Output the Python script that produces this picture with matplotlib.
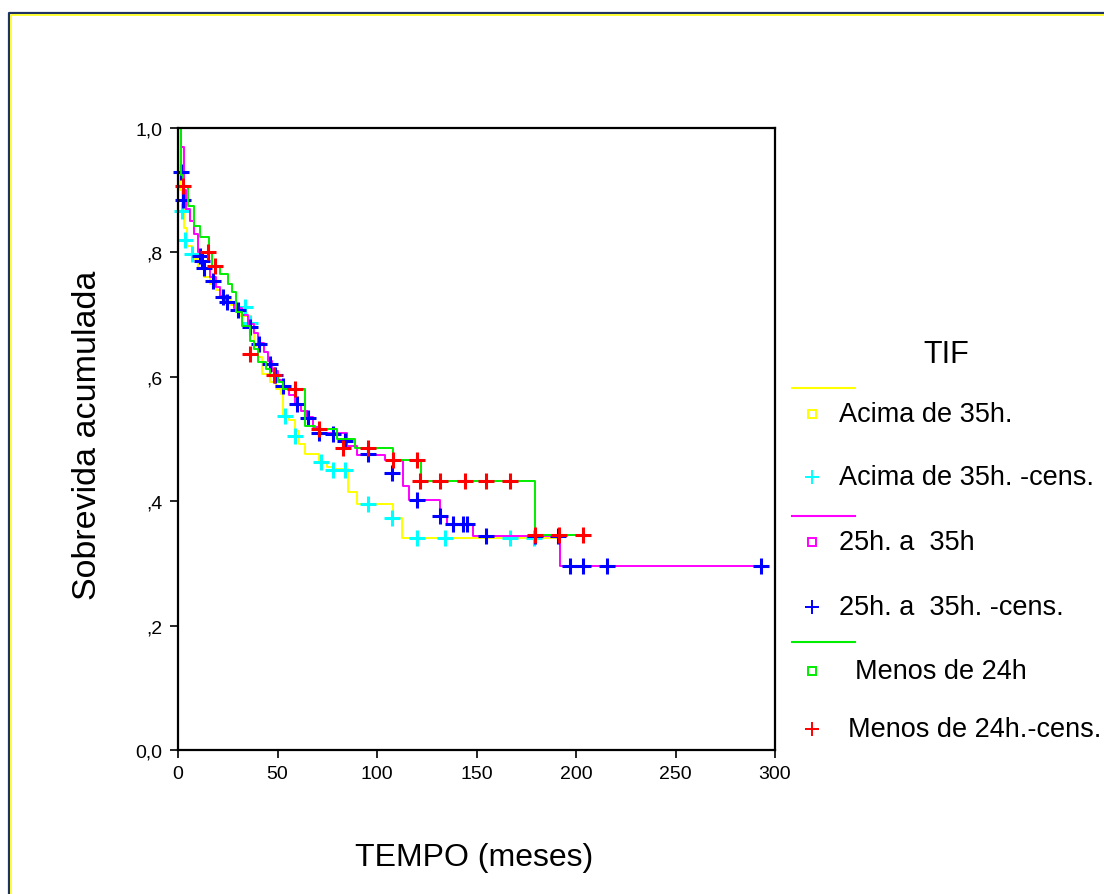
import matplotlib
matplotlib.use("Agg")
import matplotlib.pyplot as plt
from matplotlib.lines import Line2D

plt.rcParams['font.family'] = ['Liberation Sans', 'DejaVu Sans']

# Kaplan-Meier curves (time in months, cumulative survival)
acima_t = [0, 1, 2, 3, 4.5, 7, 10, 13, 16, 19, 22, 26, 28.6, 31, 36, 38, 40, 42, 46, 49,
           52, 53, 56, 59, 61, 64, 71, 75, 78, 85.5, 90, 108, 112.5, 192]
acima_s = [1.0, 0.90, 0.87, 0.84, 0.81, 0.79, 0.775, 0.76, 0.75, 0.74, 0.725, 0.715, 0.709, 0.698,
           0.68, 0.65, 0.632, 0.605, 0.592, 0.58, 0.572, 0.537, 0.53, 0.513, 0.492, 0.476, 0.463,
           0.455, 0.452, 0.415, 0.396, 0.373, 0.341, 0.341]
acima_cens_t = [2, 3.5, 7, 33.7, 36, 54, 59, 72, 78, 84, 95.5, 107.5, 120, 134, 167, 179]
acima_cens_s = [0.866, 0.82, 0.797, 0.712, 0.686, 0.537, 0.505, 0.463, 0.45, 0.45, 0.396, 0.373,
                0.341, 0.341, 0.341, 0.341]

mid_t = [0, 1.5, 3, 4, 6, 8, 10, 12, 13, 16, 19, 21, 24, 28, 32, 35, 38, 40, 43, 45,
         47, 50, 53, 56, 59, 62, 65, 68, 71, 85, 90, 104, 113, 116, 131.5, 135, 148, 192, 294]
mid_s = [1.0, 0.97, 0.90, 0.87, 0.85, 0.83, 0.80, 0.785, 0.775, 0.76, 0.745, 0.73, 0.72, 0.71,
         0.70, 0.685, 0.67, 0.655, 0.64, 0.625, 0.61, 0.595, 0.585, 0.57, 0.556, 0.545, 0.535,
         0.52, 0.51, 0.489, 0.474, 0.466, 0.424, 0.402, 0.376, 0.363, 0.344, 0.296, 0.296]
mid_cens_t = [1.5, 2.5, 11, 12, 13, 17.6, 22.6, 24.6, 30, 36, 40.7, 46, 48.7, 53, 60, 65.3, 71,
              78, 84, 95.5, 107.5, 120, 131.7, 138, 143, 145, 155, 179.5, 191, 197, 203.5,
              215.5, 293]
mid_cens_s = [0.93, 0.884, 0.795, 0.786, 0.775, 0.754, 0.728, 0.72, 0.707, 0.68, 0.653, 0.62,
              0.603, 0.585, 0.556, 0.534, 0.51, 0.508, 0.497, 0.476, 0.445, 0.402, 0.376, 0.363,
              0.363, 0.363, 0.344, 0.344, 0.344, 0.296, 0.296, 0.296, 0.296]

menos_t = [0, 1.5, 2.5, 5, 8, 11, 15.5, 17, 21, 25, 27, 29, 32, 36, 38, 40, 44, 46, 50, 53,
           64, 69, 80, 89, 108, 122, 179.5, 204]
menos_s = [1.0, 0.925, 0.905, 0.875, 0.842, 0.825, 0.80, 0.777, 0.765, 0.75, 0.736, 0.704,
           0.682, 0.658, 0.645, 0.624, 0.612, 0.603, 0.592, 0.58, 0.521, 0.516, 0.50, 0.486,
           0.466, 0.432, 0.346, 0.346]
menos_cens_t = [2.5, 15, 18.6, 36, 48, 59, 71, 83, 95.5, 108, 120, 121.5, 131.5, 144, 155, 167,
                179.5, 191.5, 203.5]
menos_cens_s = [0.907, 0.80, 0.778, 0.637, 0.603, 0.58, 0.516, 0.486, 0.486, 0.466, 0.466,
                0.432, 0.432, 0.432, 0.432, 0.432, 0.346, 0.346, 0.346]

x_ticks = [0, 50, 100, 150, 200, 250, 300]
y_ticks = [0.0, 0.2, 0.4, 0.6, 0.8, 1.0]
y_tick_labels = ['0,0', ',2', ',4', ',6', ',8', '1,0']

legend_labels = ['Acima de 35h.', 'Acima de 35h. -cens.', '25h. a  35h', '25h. a  35h. -cens.',
                 'Menos de 24h', 'Menos de 24h.-cens.']

W, H = 1104, 895
fig = plt.figure(figsize=(W / 100, H / 100), dpi=100)
ax = fig.add_axes([178 / W, 1 - 751 / H, (775 - 178) / W, (751 - 129) / H])

groups = [
    (acima_t, acima_s, acima_cens_t, acima_cens_s, '#ffff00', '#00ffff'),
    (mid_t, mid_s, mid_cens_t, mid_cens_s, '#ff00ff', '#0000ff'),
    (menos_t, menos_s, menos_cens_t, menos_cens_s, '#00ee00', '#ff0000'),
]
for t, s, ct, cs, lc, mc in groups:
    ax.step(t, s, where='post', color=lc, lw=1.4, clip_on=False)
    ax.plot(ct, cs, ls='none', marker='+', ms=12, mew=2.2, color=mc, clip_on=False)

ax.set_xlim(0, 300)
ax.set_ylim(0, 1)
ax.set_xticks(x_ticks)
ax.set_yticks(y_ticks)
ax.set_yticklabels(y_tick_labels)
ax.tick_params(direction='out', length=6, width=1.2, labelsize=14, pad=5)
for sp in ax.spines.values():
    sp.set_linewidth(1.6)

fig.text(88 / W, 1 - 435 / H, 'Sobrevida acumulada', rotation=90, fontsize=24.5,
         ha='center', va='center')
fig.text(474 / W, 1 - 858 / H, 'TEMPO (meses)', fontsize=23, ha='center', va='center')

# legend, SPSS style
fig.text(946 / W, 1 - 355 / H, 'TIF', fontsize=22, ha='center', va='center')
line_y = [389, 517, 643]
line_c = ['#ffff00', '#ff00ff', '#00ee00']
for y, c in zip(line_y, line_c):
    fig.add_artist(Line2D([792 / W, 855 / W], [1 - y / H, 1 - y / H], color=c, lw=1.5))
item_y = [415, 478, 543, 608, 672, 730]
item_x = [839, 839, 839, 839, 855, 848]
item_m = ['s', '+', 's', '+', 's', '+']
item_c = ['#ffff00', '#00ffff', '#ff00ff', '#0000ff', '#00ee00', '#ff0000']
for y, x, m, c, lab in zip(item_y, item_x, item_m, item_c, legend_labels):
    if m == 's':
        fig.add_artist(Line2D([812 / W], [1 - y / H], marker='s', ms=5.5, mfc='white',
                              mec=c, mew=1.4, ls='none'))
    else:
        fig.add_artist(Line2D([812 / W], [1 - y / H], marker='+', ms=10, mew=1.4,
                              color=c, ls='none'))
    fig.text(x / W, 1 - y / H, lab, fontsize=19.5, ha='left', va='center')

# frame around the chart
fig.add_artist(Line2D([9 / W, 9 / W, 1.01], [-0.01, 1 - 14 / H, 1 - 14 / H],
                      color='#1f3462', lw=1.6))
fig.add_artist(Line2D([11 / W, 11 / W, 1.01], [-0.01, 1 - 16 / H, 1 - 16 / H],
                      color='#ffff00', lw=1.1))

fig.savefig('out.png', dpi=100)
